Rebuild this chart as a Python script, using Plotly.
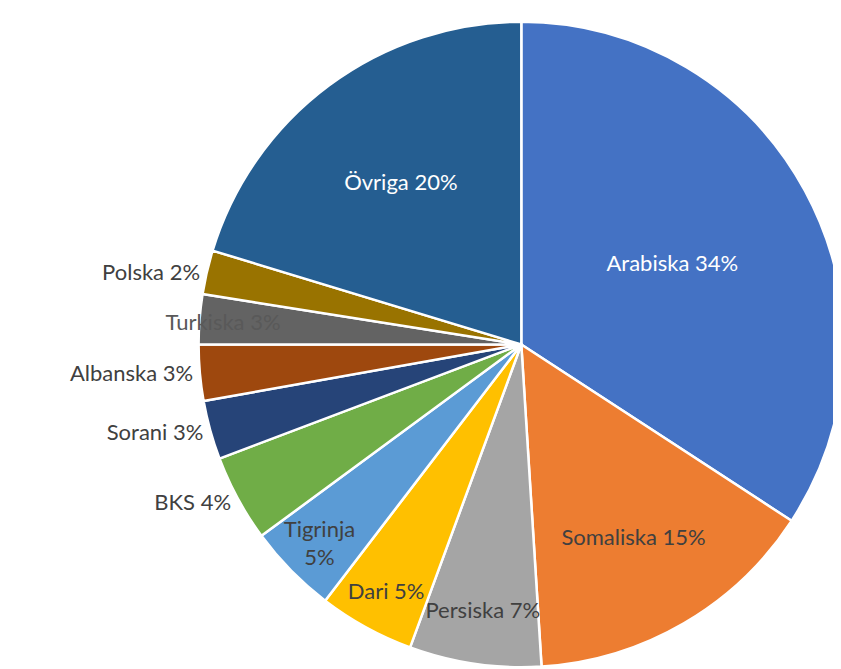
import plotly.graph_objects as go

# Språkfördelning (andel i procent)
SPRAK = ["Arabiska", "Somaliska", "Persiska", "Dari", "Tigrinja", "BKS",
         "Sorani", "Albanska", "Turkiska", "Polska", "Övriga"]
ANDEL = [34.2, 14.8, 6.6, 4.8, 4.5, 4.35, 2.95, 2.8, 2.5, 2.2, 20.3]
VISAD_PROCENT = [34, 15, 7, 5, 5, 4, 3, 3, 3, 2, 20]

FARGER = ["#4472C4", "#ED7D31", "#A5A5A5", "#FFC000", "#5B9BD5", "#70AD47",
          "#264478", "#9E480E", "#636363", "#997300", "#255E91"]

text = []
for s, p in zip(SPRAK, VISAD_PROCENT):
    if s == "Tigrinja":
        text.append(f"{s}<br>{p}%")
    else:
        text.append(f"{s} {p}%")

utanfor = ["Polska", "Albanska", "Sorani", "BKS"]
positioner = ["outside" if s in utanfor else "inside" for s in SPRAK]

textfarg = []
for s in SPRAK:
    if s in ("Arabiska", "Övriga"):
        textfarg.append("white")
    elif s == "Turkiska":
        textfarg.append("#595959")
    else:
        textfarg.append("#404040")

fig = go.Figure()
fig.add_trace(go.Pie(
    labels=SPRAK,
    values=ANDEL,
    text=text,
    textinfo="text",
    textposition=positioner,
    insidetextorientation="horizontal",
    sort=False,
    direction="clockwise",
    rotation=0,
    marker=dict(colors=FARGER, line=dict(color="white", width=2.5)),
    insidetextfont=dict(family="Lato", size=22, color=textfarg),
    outsidetextfont=dict(family="Lato", size=22, color="#404040"),
    domain=dict(x=[0.228, 1], y=[0, 1]),
    showlegend=False,
    hoverinfo="label+percent",
))

fig.update_layout(
    width=841,
    height=669,
    margin=dict(l=0, r=0, t=12, b=0),
    paper_bgcolor="white",
    plot_bgcolor="white",
    uniformtext=dict(minsize=22, mode="show"),
    font=dict(family="Lato", size=22, color="#404040"),
)

fig.write_html("out.html")
